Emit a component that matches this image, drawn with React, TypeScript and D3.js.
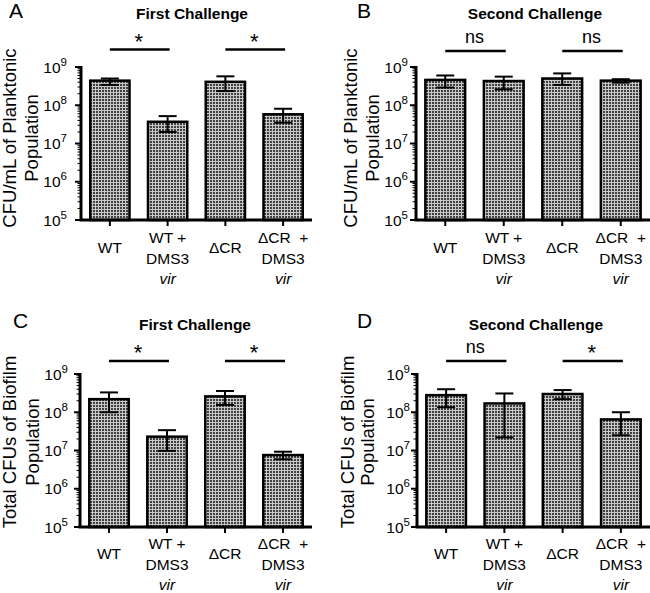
import React from "react";
import * as d3 from "d3";

const categories = ["WT", "WT + DMS3 vir", "ΔCR", "ΔCR + DMS3 vir"];
const categoryLines = [["WT"], ["WT +", "DMS3", "vir"], ["ΔCR"], ["ΔCR  +", "DMS3", "vir"]];

const planktonicFirst = [4.4e8, 3.7e7, 4.1e8, 5.8e7];
const planktonicFirstHi = [5.0e8, 5.2e7, 5.7e8, 8.1e7];
const planktonicFirstLo = [3.4e8, 2.0e7, 2.35e8, 3.5e7];

const planktonicSecond = [4.6e8, 4.3e8, 5.0e8, 4.4e8];
const planktonicSecondHi = [6.0e8, 5.6e8, 6.8e8, 4.8e8];
const planktonicSecondLo = [2.9e8, 2.6e8, 3.4e8, 3.9e8];

const biofilmFirst = [2.2e8, 2.3e7, 2.6e8, 7.6e6];
const biofilmFirstHi = [3.3e8, 3.4e7, 3.6e8, 9.3e6];
const biofilmFirstLo = [1.0e8, 9.8e6, 1.55e8, 5.9e6];

const biofilmSecond = [2.8e8, 1.7e8, 3.0e8, 6.5e7];
const biofilmSecondHi = [4.0e8, 3.1e8, 3.8e8, 1.0e8];
const biofilmSecondLo = [1.35e8, 2.2e7, 2.2e8, 2.5e7];

const yDomain = [1e5, 1e9];
const sigA = ["*", "*"];
const sigB = ["ns", "ns"];
const sigC = ["*", "*"];
const sigD = ["ns", "*"];

const FONT = "'Liberation Sans', Arial, sans-serif";

type PanelCfg = {
  letter: string;
  title: string;
  yLabel: [string, string];
  values: number[];
  hi: number[];
  lo: number[];
  sig: string[];
  axisX: number;
  axisRight: number;
  yTop: number;
  yBottom: number;
  tickLabelEnd: number;
  yLabelX1: number;
  yLabelX2: number;
  yLabelCY: number;
  titleX: number;
  titleY: number;
  letterX: number;
  letterY: number;
  sigY: number;
  xLabelBase: number;
};

const panels: PanelCfg[] = [
  {
    letter: "A", title: "First Challenge", yLabel: ["CFU/mL of Planktonic", "Population"],
    values: planktonicFirst, hi: planktonicFirstHi, lo: planktonicFirstLo, sig: sigA,
    axisX: 81, axisRight: 312, yTop: 67, yBottom: 220, tickLabelEnd: 67,
    yLabelX1: 9, yLabelX2: 31.5, yLabelCY: 138, titleX: 192, titleY: 18.5, letterX: 9, letterY: 18, sigY: 49.5,
    xLabelBase: 243,
  },
  {
    letter: "B", title: "Second Challenge", yLabel: ["CFU/mL of Planktonic", "Population"],
    values: planktonicSecond, hi: planktonicSecondHi, lo: planktonicSecondLo, sig: sigB,
    axisX: 416, axisRight: 650, yTop: 67, yBottom: 220, tickLabelEnd: 408,
    yLabelX1: 350, yLabelX2: 372, yLabelCY: 138, titleX: 535, titleY: 18.5, letterX: 357, letterY: 18, sigY: 51,
    xLabelBase: 243,
  },
  {
    letter: "C", title: "First Challenge", yLabel: ["Total CFUs of Biofilm", "Population"],
    values: biofilmFirst, hi: biofilmFirstHi, lo: biofilmFirstLo, sig: sigC,
    axisX: 80, axisRight: 312, yTop: 374, yBottom: 527, tickLabelEnd: 68,
    yLabelX1: 9, yLabelX2: 32, yLabelCY: 442, titleX: 195, titleY: 330, letterX: 13, letterY: 328, sigY: 361,
    xLabelBase: 549,
  },
  {
    letter: "D", title: "Second Challenge", yLabel: ["Total CFUs of Biofilm", "Population"],
    values: biofilmSecond, hi: biofilmSecondHi, lo: biofilmSecondLo, sig: sigD,
    axisX: 417, axisRight: 650, yTop: 374, yBottom: 527, tickLabelEnd: 410,
    yLabelX1: 347, yLabelX2: 367, yLabelCY: 442, titleX: 536, titleY: 330, letterX: 357, letterY: 328, sigY: 361,
    xLabelBase: 549,
  },
];

function Panel({ p }: { p: PanelCfg }) {
  const x = d3.scaleBand<string>().domain(categories).range([p.axisX, p.axisRight]).paddingInner(0.32).paddingOuter(0.16);
  const y = d3.scaleLog().domain(yDomain).range([p.yBottom, p.yTop]);
  const ticks = y.ticks();
  const isMajor = (t: number) => Math.abs(Math.log10(t) - Math.round(Math.log10(t))) < 1e-9;
  const bw = x.bandwidth();
  const cap = 9;
  return (
    <g fontFamily={FONT}>
      <text x={p.letterX} y={p.letterY} fontSize={21}>{p.letter}</text>
      <text x={p.titleX} y={p.titleY} fontSize={15.5} fontWeight="bold" textAnchor="middle">{p.title}</text>
      {p.yLabel.map((l, i) => (
        <text key={i} transform={`translate(${i === 0 ? p.yLabelX1 : p.yLabelX2},${p.yLabelCY}) rotate(-90)`}
          fontSize={18.5} textAnchor="middle" dominantBaseline="central">{l}</text>
      ))}
      {categories.map((c, i) => (
        <rect key={c} x={x(c)!} y={y(p.values[i])} width={bw} height={p.yBottom - y(p.values[i])}
          fill="url(#checker)" stroke="#000" strokeWidth={2.5} />
      ))}
      {categories.map((c, i) => {
        const cx = x(c)! + bw / 2;
        return (
          <g key={c} stroke="#000" strokeWidth={2}>
            <line x1={cx} x2={cx} y1={y(p.hi[i])} y2={y(p.lo[i])} />
            <line x1={cx - cap} x2={cx + cap} y1={y(p.hi[i])} y2={y(p.hi[i])} />
            <line x1={cx - cap} x2={cx + cap} y1={y(p.lo[i])} y2={y(p.lo[i])} />
          </g>
        );
      })}
      <line x1={p.axisX} x2={p.axisX} y1={p.yTop - 1} y2={p.yBottom} stroke="#000" strokeWidth={3} />
      {ticks.map((t, i) => (
        <line key={i} x1={p.axisX} x2={p.axisX - (isMajor(t) ? 6 : 3.5)} y1={y(t)} y2={y(t)}
          stroke="#000" strokeWidth={isMajor(t) ? 2 : 1} />
      ))}
      {ticks.filter(isMajor).map((t, i) => (
        <text key={i} x={p.tickLabelEnd} y={y(t) + 5.5} fontSize={15.5} textAnchor="end">
          10<tspan fontSize={11.5} dy={-7}>{Math.round(Math.log10(t))}</tspan>
        </text>
      ))}
      <line x1={p.axisX - 1.5} x2={p.axisRight} y1={p.yBottom} y2={p.yBottom} stroke="#000" strokeWidth={3} />
      {categories.map((c, i) => {
        const cx = x(c)! + bw / 2;
        const lines = categoryLines[i];
        return (
          <g key={c}>
            <line x1={cx} x2={cx} y1={p.yBottom} y2={p.yBottom + 6} stroke="#000" strokeWidth={2} />
            {lines.length === 1 ? (
              <text x={cx} y={p.xLabelBase + 10} fontSize={15.5} textAnchor="middle">{lines[0]}</text>
            ) : (
              lines.map((l, j) => (
                <text key={j} x={cx} y={p.xLabelBase + j * 20.5} fontSize={15.5} textAnchor="middle"
                  fontStyle={j === 2 ? "italic" : "normal"} style={{ whiteSpace: "pre" }}>{l}</text>
              ))
            )}
          </g>
        );
      })}
      {p.sig.map((s, k) => {
        const c1 = x(categories[k * 2])! + bw / 2;
        const c2 = x(categories[k * 2 + 1])! + bw / 2;
        const mid = (c1 + c2) / 2;
        const isNs = s === "ns";
        return (
          <g key={k}>
            <line x1={c1} x2={c2 + 2} y1={p.sigY} y2={p.sigY} stroke="#000" strokeWidth={2.5} />
            <text x={mid} y={p.sigY - (isNs ? 8.5 : 1)} fontSize={isNs ? 18 : 22} textAnchor="middle">{s}</text>
          </g>
        );
      })}
    </g>
  );
}

export default function App() {
  return (
    <svg width={650} height={593} style={{ display: "block", position: "absolute", left: 0, top: 0, background: "#fff" }}>
      <defs>
        <pattern id="checker" width={3} height={3} patternUnits="userSpaceOnUse">
          <rect width={3} height={3} fill="#c8c8c8" />
          <rect width={2} height={2} fill="#404040" />
        </pattern>
      </defs>
      <rect width={650} height={593} fill="#fff" />
      {panels.map((p) => <Panel key={p.letter} p={p} />)}
    </svg>
  );
}
